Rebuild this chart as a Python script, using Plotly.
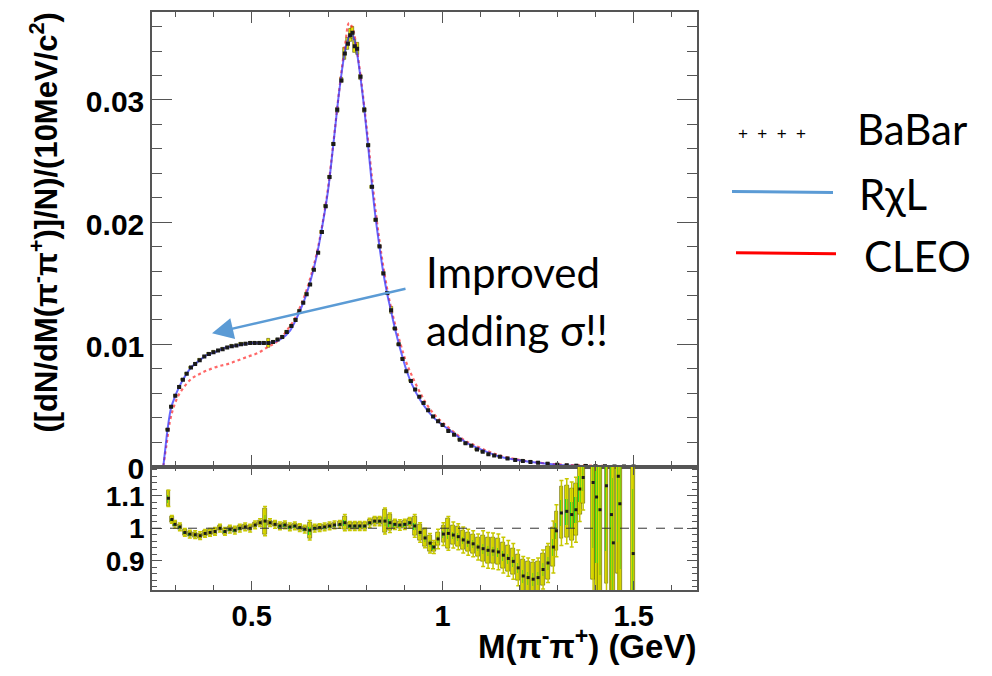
import plotly.graph_objects as go

# ---------------- data ----------------
# BaBar tau -> pi pi nu spectrum, normalised per 10 MeV bin
babar_x = [0.280,0.289,0.300,0.310,0.320,0.330,0.341,0.352,0.364,0.376,
           0.388,0.400,0.412,0.424,0.436,0.448,0.460,0.472,0.484,0.496,
           0.508,0.520,0.532,0.544,0.556,0.568,0.580,0.592,0.604,0.615,
           0.625,0.635,0.644,0.653,0.663,0.674,0.684,0.694,0.704,0.714,
           0.724,0.735,0.744,0.752,0.758,0.764,0.770,0.776,0.785,0.795,
           0.805,0.815,0.825,0.835,0.845,0.855,0.865,0.875,0.885,0.895,
           0.905,0.917,0.928,0.939,0.950,0.962,0.975,0.988,1.000,1.015,
           1.030,1.045,1.060,1.075,1.090,1.105,1.120,1.135,1.150,1.170,
           1.190,1.210,1.230,1.250,1.275,1.300,1.325,1.350,1.375,1.400,
           1.425,1.450,1.475,1.500]
babar_y = [0.0030,0.0049,0.0058,0.0065,0.0071,0.0076,0.0081,0.0084,0.0087,0.0090,
           0.0092,0.00935,0.0095,0.0096,0.00975,0.00985,0.0099,0.0100,0.01005,0.0101,
           0.0101,0.0101,0.0101,0.0101,0.0102,0.0104,0.0106,0.0110,0.0115,0.0120,
           0.0127,0.0134,0.0141,0.0149,0.0161,0.0175,0.0192,0.0213,0.0237,0.0264,
           0.0292,0.0316,0.0338,0.0346,0.0353,0.0355,0.0344,0.0342,0.0319,0.0292,
           0.0263,0.0229,0.0202,0.0180,0.0158,0.0142,0.0128,0.0113,0.0100,0.0088,
           0.0078,0.0070,0.0063,0.0057,0.0052,0.0046,0.0041,0.0037,0.0034,0.0029,
           0.0026,0.0022,0.0019,0.0017,0.0014,0.0012,0.0010,0.0009,0.0008,0.00066,
           0.00054,0.00045,0.00037,0.0003,0.00022,0.00014,0.0001,0.00006,0.00004,0.00003,
           0.00002,0.00001,0.00001,0.000005]
babar_err = ([0.0001] * 23 + [0.0004] + [0.0001] * 16 + [0.0002] * 2 +
             [0.0005] * 6 + [0.0002] * 2 + [0.00012] * 6 + [0.0003] + [0.00008] * 37)

# R chi L prediction
rchl_x = [0.2686,0.275,0.280,0.289,0.300,0.310,0.320,0.330,0.341,0.352,
          0.364,0.376,0.388,0.400,0.420,0.440,0.460,0.480,0.500,0.520,
          0.540,0.560,0.580,0.600,0.620,0.640,0.655,0.670,0.685,0.700,
          0.715,0.730,0.745,0.755,0.762,0.768,0.775,0.785,0.795,0.805,
          0.815,0.825,0.835,0.845,0.855,0.865,0.875,0.890,0.905,0.920,
          0.940,0.960,0.980,1.000,1.030,1.060,1.100,1.150,1.200,1.250,
          1.300,1.350,1.400,1.500,1.666]
rchl_y = [0,0.0018,0.0031,0.0048,0.0058,0.0065,0.0071,0.0076,0.0081,0.0084,
          0.0087,0.0090,0.0092,0.0093,0.0096,0.0098,0.0099,0.0100,0.0101,0.0101,
          0.0101,0.0102,0.0105,0.0111,0.0123,0.0138,0.0153,0.0172,0.0197,0.0226,
          0.0267,0.0309,0.0341,0.0352,0.0354,0.0350,0.0340,0.0318,0.0292,0.0262,
          0.0230,0.0202,0.0179,0.0158,0.0141,0.0127,0.0113,0.0095,0.0079,0.0067,
          0.0055,0.0046,0.0039,0.0034,0.0027,0.0020,0.0014,0.0008,0.00052,0.0003,
          0.00015,0.00006,0.00003,0.00001,0.0]

# CLEO parametrisation
cleo_x = [0.2686,0.2775,0.286,0.295,0.308,0.325,0.343,0.365,0.386,0.413,
          0.439,0.465,0.491,0.517,0.543,0.561,0.579,0.596,0.613,0.626,
          0.640,0.655,0.670,0.685,0.700,0.715,0.730,0.745,0.755,0.765,
          0.775,0.785,0.795,0.805,0.815,0.825,0.835,0.845,0.860,0.875,
          0.890,0.905,0.920,0.940,0.960,0.980,1.000,1.030,1.060,1.100,
          1.150,1.200,1.250,1.300,1.400,1.500,1.666]
cleo_y = [0,0.0019,0.0037,0.0048,0.0058,0.0066,0.0072,0.0076,0.0079,0.0082,
          0.0084,0.0087,0.0090,0.0093,0.0098,0.0101,0.0106,0.0113,0.0121,0.0130,
          0.0141,0.0156,0.0174,0.0198,0.0228,0.0268,0.0310,0.0346,0.0363,0.0358,
          0.0342,0.0320,0.0294,0.0266,0.0236,0.0208,0.0184,0.0163,0.0137,0.0117,
          0.0100,0.0085,0.0074,0.0061,0.0050,0.0042,0.0036,0.0028,0.0021,0.0015,
          0.0009,0.00055,0.00032,0.00018,0.00006,0.00002,0.0]

# ratio panel
ratio_x = [0.282,0.291,0.299,0.312,0.325,0.338,0.352,0.365,0.378,0.391,
           0.404,0.417,0.430,0.443,0.456,0.469,0.483,0.496,0.509,0.522,
           0.535,0.548,0.561,0.574,0.587,0.600,0.613,0.626,0.639,0.652,
           0.665,0.678,0.691,0.704,0.717,0.731,0.744,0.757,0.770,0.783,
           0.796,0.809,0.822,0.835,0.849,0.862,0.875,0.888,0.901,0.914,
           0.927,0.941,0.954,0.967,0.977,0.988,1.002,1.015,1.028,1.041,
           1.054,1.067,1.080,1.093,1.106,1.119,1.132,1.146,1.159,1.172,
           1.185,1.198,1.211,1.224,1.237,1.250,1.263,1.276,1.290,1.298,
           1.311,1.325,1.338,1.349,1.359,1.368,1.394,1.403,1.412,1.429,
           1.442,1.447,1.460,1.464,1.499]
ratio_y = [1.092,1.027,1.012,1.004,0.987,0.982,0.980,0.977,0.984,0.987,
           0.990,1.000,0.990,0.997,0.994,1.000,1.004,1.000,1.010,1.017,
           1.022,1.017,1.012,1.007,1.010,1.004,1.007,1.002,0.997,0.994,
           1.000,1.002,1.004,1.007,1.010,1.012,1.017,1.007,1.007,1.007,
           1.007,1.017,1.022,1.022,1.022,1.017,1.012,1.010,1.012,1.017,
           1.007,0.987,0.970,0.954,0.942,0.967,0.982,0.984,0.979,0.974,
           0.964,0.957,0.952,0.942,0.937,0.932,0.930,0.927,0.917,0.907,
           0.898,0.878,0.853,0.848,0.843,0.848,0.873,0.893,0.942,0.992,
           1.047,1.052,1.042,1.057,1.121,1.156,1.141,1.096,1.057,1.131,
           1.042,0.955,1.160,1.075,0.922]
ratio_box = ([0.025] + [0.008] * 19 + [0.04] + [0.008] * 8 + [0.025] + [0.008] * 6 +
             [0.02] + [0.01] * 7 + [0.035, 0.025] + [0.012] * 4 + [0.03] + [0.025] * 3 +
             [0.015, 0.02, 0.025, 0.045] + [0.03] * 6 + [0.04] * 8 + [0.05] * 6 +
             [0.06] * 2 + [0.08] * 6 + [0.3] * 9)
ratio_stat = ([0.012] + [0.004] * 19 + [0.02] + [0.004] * 8 + [0.012] + [0.004] * 6 +
              [0.01] + [0.005] * 7 + [0.015, 0.012] + [0.006] * 4 + [0.012] + [0.01] * 3 +
              [0.008, 0.01, 0.012, 0.015] + [0.012] * 6 + [0.015] * 8 + [0.02] * 6 +
              [0.025] * 2 + [0.04] * 6 + [0.2] * 9)
ratio_tot = ([0.025] + [0.012] * 19 + [0.045] + [0.012] * 8 + [0.03] + [0.012] * 6 +
             [0.025] + [0.014] * 7 + [0.04, 0.03] + [0.016] * 4 + [0.035] + [0.03] * 3 +
             [0.02, 0.03, 0.035, 0.052] + [0.04] * 6 + [0.055] * 8 + [0.06] * 6 +
             [0.08] * 2 + [0.1] * 6 + [0.4] * 9)

legend_labels = ["BaBar", "R\u03c7L", "CLEO"]
annotation_lines = ["Improved", "adding \u03c3!!"]

# ---------------- geometry (pixels of a 992 x 676 page) ----------------
W, H = 992, 676
def px(x):
    return x / W
def py(y):
    return 1 - y / H

X_RANGE = [0.239, 1.666]
frame = "#555555"
bold_family = "Liberation Sans, Arial, sans-serif"
text_font = "Lato, 'Open Sans', sans-serif"

fig = go.Figure()

# main panel: yellow error boxes, model curves, data markers
fig.add_trace(go.Bar(
    x=babar_x, y=[2 * e for e in babar_err], base=[v - e for v, e in zip(babar_y, babar_err)],
    width=0.008, marker=dict(color="#e6e600", line=dict(color="rgba(70,70,0,0.9)", width=0.6)),
    xaxis="x", yaxis="y", hoverinfo="skip"))
fig.add_trace(go.Scatter(
    x=cleo_x, y=cleo_y, mode="lines", line=dict(color="rgba(255,40,40,0.7)", width=2.2, dash="dot", shape="spline"),
    xaxis="x", yaxis="y"))
fig.add_trace(go.Scatter(
    x=rchl_x, y=rchl_y, mode="lines", line=dict(color="rgba(40,40,255,0.7)", width=2, shape="spline"),
    xaxis="x", yaxis="y"))
fig.add_trace(go.Scatter(
    x=babar_x, y=babar_y, mode="markers",
    marker=dict(symbol="square", size=4, color="#1a1a1a"),
    xaxis="x", yaxis="y"))

# ratio panel: yellow boxes, green statistical boxes, whiskers and points
fig.add_trace(go.Bar(
    x=ratio_x, y=[2 * e for e in ratio_box], base=[v - e for v, e in zip(ratio_y, ratio_box)],
    width=0.010, marker=dict(color="#e8e800", line=dict(color="rgba(90,90,0,0.9)", width=0.7)),
    xaxis="x2", yaxis="y2", hoverinfo="skip"))
fig.add_trace(go.Bar(
    x=ratio_x, y=[2 * e for e in ratio_stat], base=[v - e for v, e in zip(ratio_y, ratio_stat)],
    width=0.005, marker=dict(color="#22dd22", line=dict(width=0)),
    xaxis="x2", yaxis="y2", hoverinfo="skip"))
fig.add_trace(go.Scatter(
    x=ratio_x, y=ratio_y, mode="markers",
    marker=dict(symbol="square", size=3, color="#1a1a1a"),
    error_y=dict(type="data", array=ratio_tot, color="#c8c800", thickness=1.5, width=2),
    xaxis="x2", yaxis="y2"))

axis_common = dict(showline=True, linecolor=frame, linewidth=1.5, mirror="allticks",
                   ticks="inside", tickcolor=frame, tickwidth=1.2, showgrid=False,
                   zeroline=False)

fig.update_layout(
    width=W, height=H, margin=dict(l=0, r=0, t=0, b=0),
    paper_bgcolor="white", plot_bgcolor="white",
    showlegend=False, barmode="overlay", bargap=0,
    xaxis=dict(domain=[px(152), px(697)], range=X_RANGE, anchor="y",
               dtick=0.5, ticklen=12, showticklabels=False,
               minor=dict(dtick=0.1, ticklen=6, ticks="inside", tickcolor=frame),
               **axis_common),
    yaxis=dict(domain=[py(480), py(12)], range=[0, 0.03723], anchor="x",
               dtick=0.01, ticklen=20, ticklabelshift=2,
               tickfont=dict(family=bold_family, size=30, color="black", weight="bold"),
               minor=dict(dtick=0.002, ticklen=10, ticks="inside", tickcolor=frame),
               **axis_common),
    xaxis2=dict(domain=[px(152), px(697)], range=X_RANGE, anchor="y2",
                dtick=0.5, ticklen=9,
                tickfont=dict(family=bold_family, size=29, color="black", weight="bold"),
                minor=dict(dtick=0.1, ticklen=5, ticks="inside", tickcolor=frame),
                **axis_common),
    yaxis2=dict(domain=[py(607), py(480)], range=[0.81, 1.19], anchor="x2",
                dtick=0.1, ticklen=10,
                tickfont=dict(family=bold_family, size=28, color="black", weight="bold"),
                minor=dict(dtick=0.02, ticklen=5, ticks="inside", tickcolor=frame),
                **axis_common),
)

# unit line in ratio panel
fig.add_shape(type="line", xref="x2", yref="y2", x0=X_RANGE[0], x1=X_RANGE[1], y0=1, y1=1,
              line=dict(color="#333333", width=1, dash="dash"))

# axis titles
fig.add_annotation(xref="paper", yref="paper", x=px(44), y=py(229),
                   text="([dN/dM(\u03c0<sup>-</sup>\u03c0<sup>+</sup>)]/N)/(10MeV/c<sup>2</sup>)",
                   textangle=-90, showarrow=False, xanchor="center", yanchor="middle",
                   font=dict(family=bold_family, size=31, color="black", weight="bold"))
fig.add_annotation(xref="paper", yref="paper", x=px(698), y=py(663),
                   text="M(\u03c0<sup>-</sup>\u03c0<sup>+</sup>) (GeV)",
                   showarrow=False, xanchor="right", yanchor="middle",
                   font=dict(family=bold_family, size=33, color="black", weight="bold"))

# legend block on the right
fig.add_annotation(xref="paper", yref="paper", x=px(772), y=py(137),
                   text="+\u00a0\u00a0+\u00a0\u00a0+\u00a0\u00a0+",
                   showarrow=False, xanchor="center", yanchor="middle",
                   font=dict(family="Liberation Sans, Arial", size=17, color="black"))
fig.add_shape(type="line", xref="paper", yref="paper", x0=px(732), x1=px(833), y0=py(197), y1=py(198),
              line=dict(color="#5b9bd5", width=3))
fig.add_shape(type="line", xref="paper", yref="paper", x0=px(736), x1=px(836), y0=py(260), y1=py(261),
              line=dict(color="#ff0000", width=3))
for label, xl, yl in zip(legend_labels, [855, 857, 862], [133, 200, 263]):
    fig.add_annotation(xref="paper", yref="paper", x=px(xl), y=py(yl), text=label,
                       showarrow=False, xanchor="left", yanchor="middle",
                       font=dict(family=text_font, size=42, color="black"))

# note with arrow
for line, yl in zip(annotation_lines, [280, 340]):
    fig.add_annotation(xref="paper", yref="paper", x=px(424), y=py(yl), text=line,
                       showarrow=False, xanchor="left", yanchor="middle",
                       font=dict(family=text_font, size=42, color="black"))
fig.add_annotation(xref="paper", yref="paper", x=px(212), y=py(343), text="",
                   showarrow=True, ax=407 - 212, ay=298 - 343, axref="pixel", ayref="pixel",
                   arrowhead=2, arrowsize=1.7, arrowwidth=2.5, arrowcolor="#5b9bd5", standoff=0)

fig.write_html("out.html")
